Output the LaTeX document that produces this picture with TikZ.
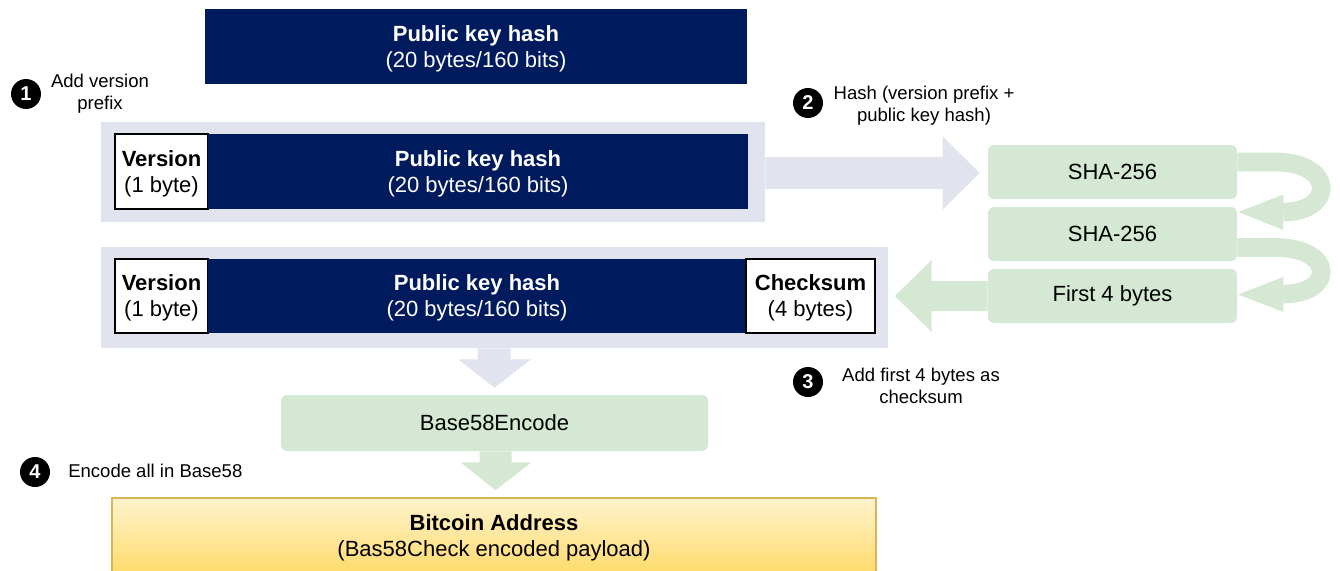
\documentclass[tikz,border=0pt]{standalone}
\usepackage{fontspec}
\setmainfont{Liberation Sans}
\usetikzlibrary{fit,calc}
\definecolor{navy}{HTML}{001A5E}
\definecolor{lav}{HTML}{E1E3EE}
\definecolor{mint}{HTML}{D5E8D4}
\definecolor{goldtop}{HTML}{FFF3CD}
\definecolor{goldbot}{HTML}{FFD966}
\definecolor{goldline}{HTML}{D6B656}

\begin{document}
\begin{tikzpicture}[x=0.75pt,y=-0.75pt,
  bigfont/.style={font=\fontsize{16.5}{19.5}\selectfont},
  smallfont/.style={font=\fontsize{13.9}{16.5}\selectfont},
  navybox/.style={fill=navy, inner sep=0pt},
  whitebox/.style={fill=white, draw=black, line width=1.1pt, inner sep=0pt},
  panel/.style={fill=lav, inner sep=0pt},
  stepbox/.style={fill=mint, rounded corners=4.5pt, inner sep=0pt},
  addrbox/.style={top color=goldtop, bottom color=goldbot, draw=goldline, line width=1.1pt, inner sep=0pt},
  oneline/.style={bigfont, align=center, inner sep=0pt},
  label/.style={oneline, yshift=-1.5pt},
  whitelabel/.style={label, text=white},
  badge/.style={circle, fill=black, text=white, inner sep=0pt, minimum size=22.5pt,
                font=\fontsize{15}{15}\selectfont\bfseries},
  note/.style={smallfont, align=center, inner sep=0pt, yshift=-1.5pt},
]
\useasboundingbox (0,0) rectangle (1340,571);

% input: the public key hash
\node[navybox, fit={(205,9) (747,84)}] (pkh) {};
\node[whitelabel] (pkh-t) at (pkh.center) {\textbf{Public key hash}\\(20 bytes/160 bits)};

% step 1: version prefix + public key hash
\node[panel, fit={(101,122) (765,222)}] (p1) {};
\node[whitebox, fit={(115,134) (208,209)}] (v1) {};
\node[navybox, fit={(208,134) (748,209)}] (h1) {};
\node[label] (v1-t) at (v1.center) {\textbf{Version}\\(1 byte)};
\node[whitelabel] (h1-t) at (h1.center) {\textbf{Public key hash}\\(20 bytes/160 bits)};

% step 3: version prefix + public key hash + checksum
\node[panel, fit={(101,247) (888,348)}] (p2) {};
\node[whitebox, fit={(115,259) (208,333)}] (v2) {};
\node[navybox, fit={(208,259) (746,333)}] (h2) {};
\node[whitebox, fit={(746,259) (875,333)}] (cs) {};
\node[label] (v2-t) at (v2.center) {\textbf{Version}\\(1 byte)};
\node[whitelabel] (h2-t) at (h2.center) {\textbf{Public key hash}\\(20 bytes/160 bits)};
\node[label] (cs-t) at (cs.center) {\textbf{Checksum}\\(4 bytes)};

% double SHA-256 and truncation
\node[stepbox, fit={(988,145) (1237,199)}] (sha1) {};
\node[stepbox, fit={(988,207) (1237,261)}] (sha2) {};
\node[stepbox, fit={(988,269) (1237,323)}] (f4) {};
\node[oneline] (sha1-t) at (sha1.center) {SHA-256};
\node[oneline] (sha2-t) at (sha2.center) {SHA-256};
\node[oneline] (f4-t) at (f4.center) {First 4 bytes};

% encoding
\node[stepbox, fit={(281,395) (708,451)}] (b58) {};
\node[oneline] (b58-t) at (b58.center) {Base58Encode};
\node[addrbox, fit={(112,498) (876,578)}] (addr) {};
\node[label] (addr-t) at (494,536) {\textbf{Bitcoin Address}\\(Bas58Check encoded payload)};

% block arrows
\fill[lav] ($(p1.east)+(0,-15)$) -- ($(sha1.west)+(-45,-15)$) -- ($(sha1.west)+(-45,-35.5)$)
  -- ($(sha1.west)+(-8,1)$) -- ($(sha1.west)+(-45,37.5)$) -- ($(sha1.west)+(-45,17)$)
  -- ($(p1.east)+(0,17)$) -- cycle;
\fill[mint] ($(f4.west)+(0,-15)$) -- ($(f4.west)+(-56,-15)$) -- ($(f4.west)+(-56,-36)$)
  -- ($(f4.west)+(-93,0)$) -- ($(f4.west)+(-56,36)$) -- ($(f4.west)+(-56,15)$)
  -- ($(f4.west)+(0,15)$) -- cycle;
\fill[lav] ($(p2.south)+(-17,0)$) -- ($(p2.south)+(-17,11)$) -- ($(p2.south)+(-36.5,11)$)
  -- ($(b58.north)+(0,-7)$) -- ($(p2.south)+(36.5,11)$) -- ($(p2.south)+(16,11)$)
  -- ($(p2.south)+(16,0)$) -- cycle;
\fill[mint] ($(b58.south)+(-15,0)$) -- ($(b58.south)+(-15,11)$) -- ($(b58.south)+(-34,11)$)
  -- ($(addr.north)+(1.5,-7)$) -- ($(b58.south)+(37,11)$) -- ($(b58.south)+(17,11)$)
  -- ($(b58.south)+(17,0)$) -- cycle;

% curved loop arrows between the hashing steps
\draw[mint, line width=14pt] ($(sha1.east)+(0,-10)$) -- ($(sha1.east)+(38,-10)$)
  .. controls ($(sha1.east)+(98,-10)$) and ($(sha1.east)+(98,40)$) .. ($(sha1.east)+(46,40)$);
\fill[mint] ($(sha1.east)+(46,22.5)$) -- ($(sha1.east)+(1,40)$) -- ($(sha1.east)+(46,58)$) -- cycle;
\draw[mint, line width=14pt] ($(sha2.east)+(0,13.5)$) -- ($(sha2.east)+(38,13.5)$)
  .. controls ($(sha2.east)+(98,13.5)$) and ($(sha2.east)+(98,60)$) .. ($(sha2.east)+(46,60)$);
\fill[mint] ($(sha2.east)+(46,43)$) -- ($(sha2.east)+(1,60.5)$) -- ($(sha2.east)+(46,78)$) -- cycle;

% numbered step notes
\node[badge] (n1) at (26,94) {1};
\node[note] (t1) at (100,92) {Add version\\prefix};
\node[badge] (n2) at (808,103) {2};
\node[note] (t2) at (924,103.5) {Hash (version prefix +\\public key hash)};
\node[badge] (n3) at (808,382) {3};
\node[note] (t3) at (921,384) {Add first 4 bytes as\\checksum};
\node[badge] (n4) at (35,472) {4};
\node[smallfont, inner sep=0pt, anchor=west] (t4) at (68,471) {Encode all in Base58};
\end{tikzpicture}
\end{document}
